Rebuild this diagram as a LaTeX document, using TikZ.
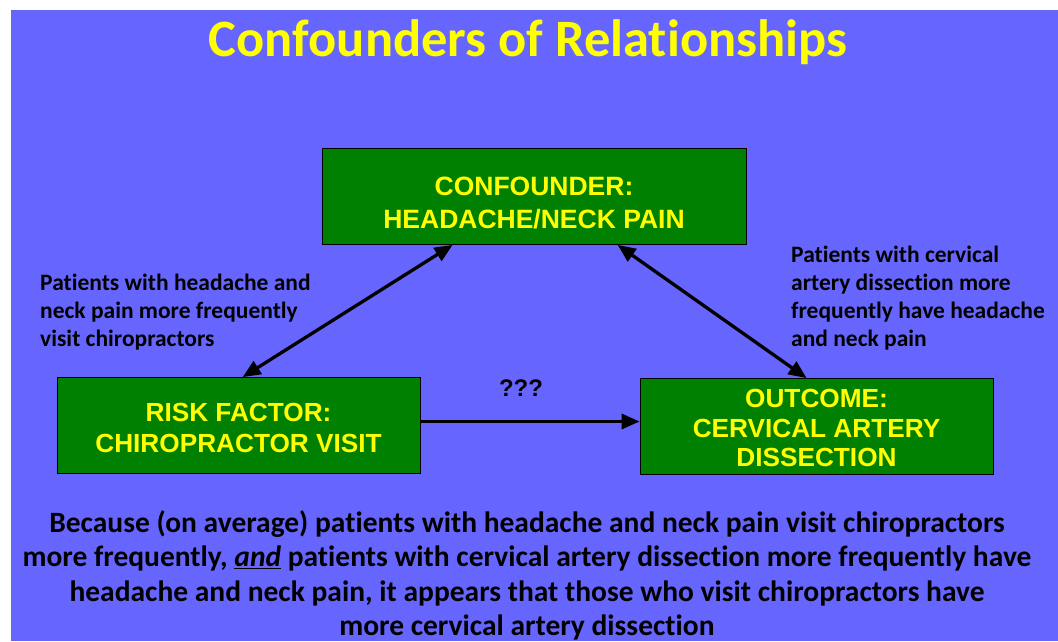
\documentclass[tikz,border=0pt]{standalone}
\usepackage{fontspec}
\setmainfont{Carlito}[Ligatures=NoCommon]
\newfontfamily\arialfont{Liberation Sans}
\usetikzlibrary{arrows.meta}
\definecolor{bgpurple}{HTML}{6666FF}
\definecolor{boxgreen}{HTML}{008000}
\definecolor{boxyellow}{HTML}{FFFF00}
\tikzset{
  stepbox/.style={draw=black, line width=0.8pt, fill=boxgreen, text=boxyellow,
    align=center, inner sep=0pt, minimum height=96pt},
  sidenote/.style={align=left, inner sep=0pt, anchor=north west, text=black,
    font=\bfseries\fontsize{23.5}{28}\selectfont},
  link/.style={line width=3.3pt, -{Triangle[length=18pt,width=15pt]}},
  dbllink/.style={line width=3.3pt, {Triangle[length=18pt,width=15pt]}-{Triangle[length=18pt,width=15pt]}}
}
\begin{document}
\begin{tikzpicture}[x=1pt,y=-1pt]
\useasboundingbox (0,0) rectangle (1058,641);
\fill[white] (0,0) rectangle (1058,641);
\fill[bgpurple] (11,10) rectangle (1058,641);

\node[anchor=base, inner sep=0pt, text=boxyellow, font=\bfseries\fontsize{52.5}{60}\selectfont] (title) at (528,56) {Confounders of Relationships};

\node[stepbox, minimum width=424pt, font=\arialfont\bfseries\fontsize{26.5}{33}\selectfont] (conf) at (534,196.5) {\rule{0pt}{31pt}CONFOUNDER:\\HEADACHE/NECK PAIN};
\node[stepbox, minimum width=363pt, font=\arialfont\bfseries\fontsize{26.2}{31}\selectfont] (risk) at (238.5,425.5) {\rule{0pt}{23pt}RISK FACTOR:\\CHIROPRACTOR VISIT};
\node[stepbox, minimum width=353pt, font=\arialfont\bfseries\fontsize{26.2}{29.5}\selectfont] (outc) at (816.5,426.5) {\rule{0pt}{22pt}OUTCOME:\\CERVICAL ARTERY\\DISSECTION};

\draw[link] ([yshift=4pt]risk.east) -- ([yshift=4pt]risk.east -| outc.west);
\node[inner sep=0pt, font=\arialfont\bfseries\fontsize{24}{28}\selectfont] (qq) at (521,388) {???};

\draw[dbllink] ([xshift=186pt]risk.north west) -- ([xshift=131pt]conf.south west);
\draw[dbllink] ([xshift=296pt]conf.south west) -- ([xshift=167pt]outc.north west);

\node[sidenote] (lnote) at (40,274) {Patients with headache and\\neck pain more frequently\\visit chiropractors};
\node[sidenote] (rnote) at (791,246) {Patients with cervical\\artery dissection more\\frequently have headache\\and neck pain};

\node[anchor=north, align=center, inner sep=0pt, font=\bfseries\fontsize{29.5}{34.5}\selectfont] (concl) at (527,510)
{Because (on average) patients with headache and neck pain visit chiropractors\\
more frequently, \underline{\textit{and}} patients with cervical artery dissection more frequently have\\
headache and neck pain, it appears that those who visit chiropractors have\\
more cervical artery dissection};
\end{tikzpicture}
\end{document}
